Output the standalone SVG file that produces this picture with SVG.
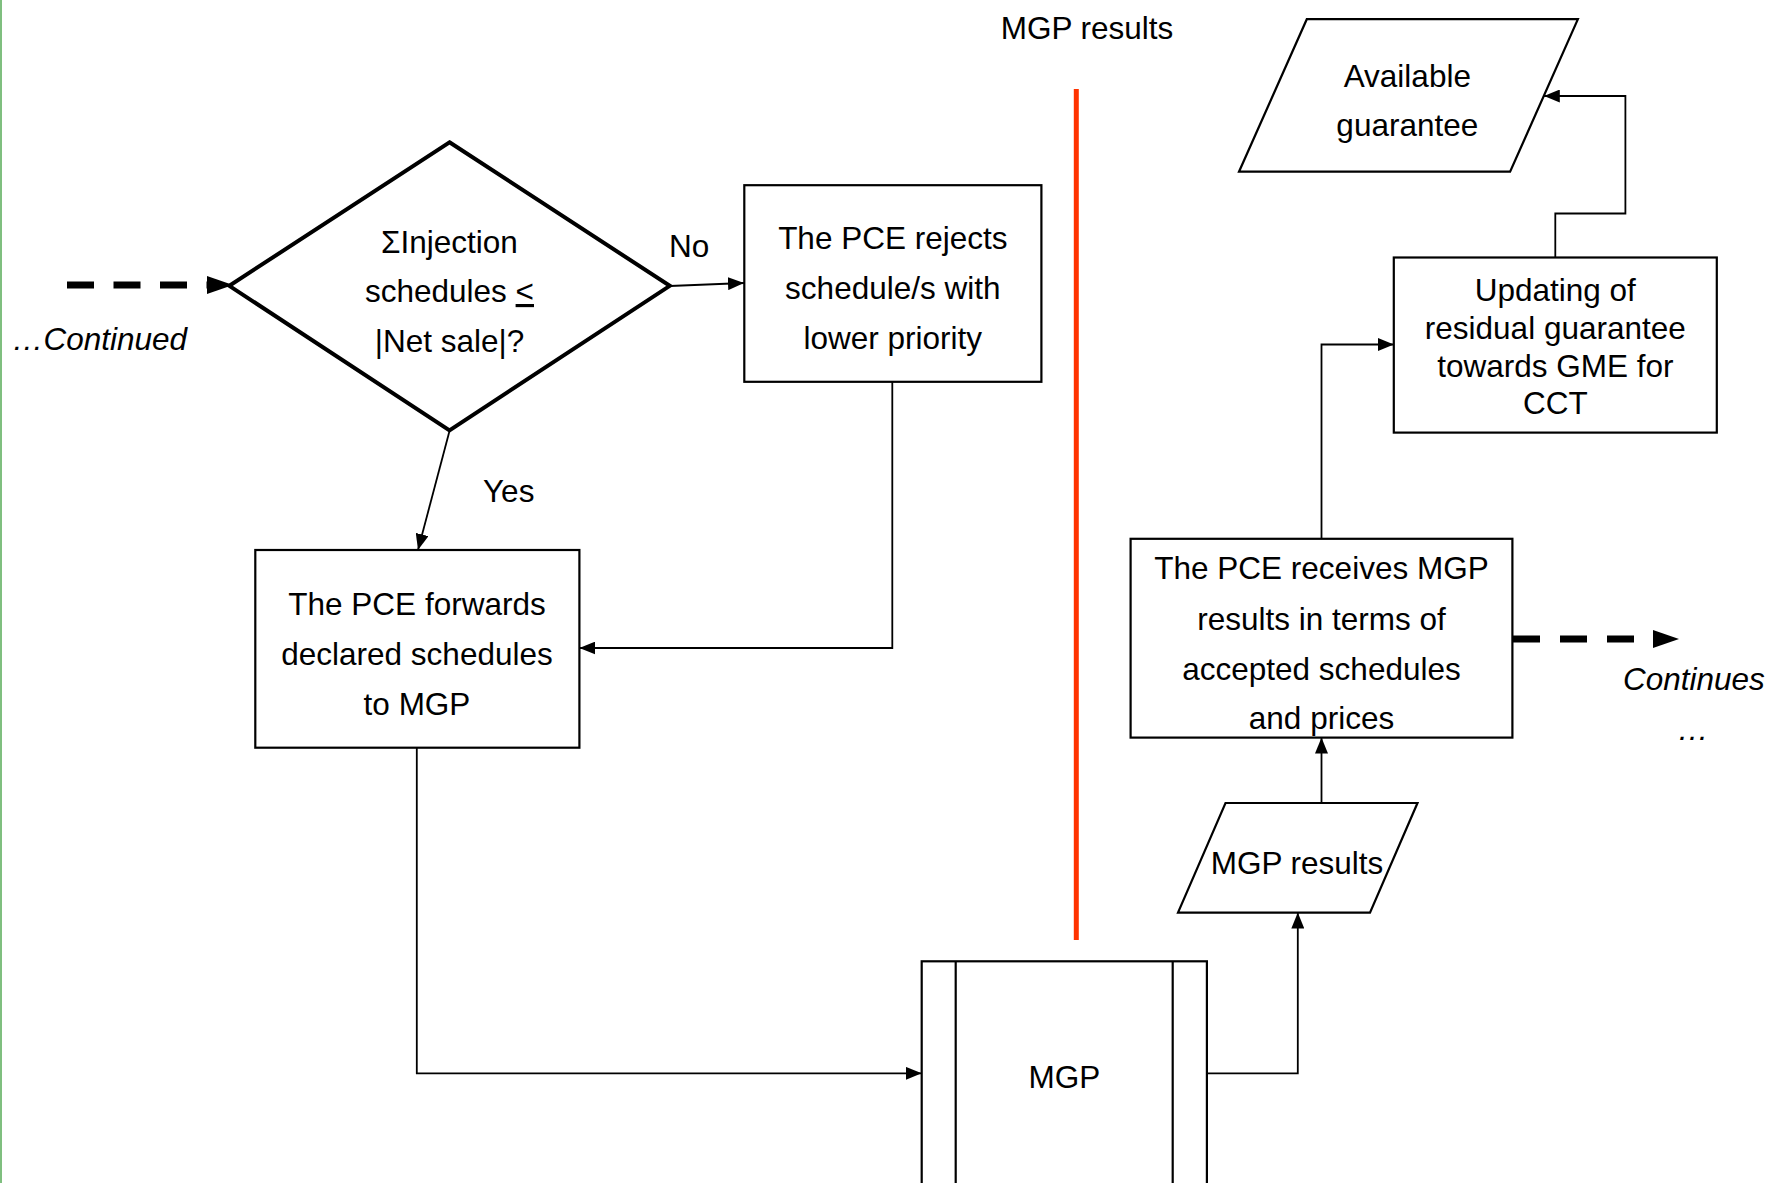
<svg xmlns="http://www.w3.org/2000/svg" width="1771" height="1183" viewBox="0 0 1771 1183">
  <style>
    text { font-family: "Liberation Sans", Arial, Helvetica, sans-serif; font-size: 31.5px; fill: #000; }
    .c { text-anchor: middle; }
    .it { font-style: italic; }
    .box { fill: #fff; stroke: #000; stroke-width: 2.2; }
    .dia { fill: #fff; stroke: #000; stroke-width: 4; stroke-linejoin: miter; }
    .ln { fill: none; stroke: #000; stroke-width: 1.8; }
    .dash { fill: none; stroke: #000; stroke-width: 7; stroke-dasharray: 27 19.5; }
  </style>
  <defs>
    <marker id="arrow" markerUnits="userSpaceOnUse" markerWidth="16" markerHeight="13" refX="16" refY="6.5" orient="auto">
      <path d="M0,0 L16,6.5 L0,13 Z" fill="#000"/>
    </marker>
    <marker id="arrowBold" markerUnits="userSpaceOnUse" markerWidth="26" markerHeight="18" refX="0" refY="9" orient="auto">
      <path d="M0,0 L26,9 L0,18 Z" fill="#000"/>
    </marker>
  </defs>

  <rect width="1771" height="1183" fill="#fff"/>
  <!-- page edge -->
  <line x1="1" y1="0" x2="1" y2="1183" stroke="#7fbf7f" stroke-width="2"/>

  <!-- swimlane divider -->
  <g id="divider">
    <text class="c" x="1087" y="39">MGP results</text>
    <line x1="1076.3" y1="89" x2="1076.3" y2="940" stroke="#ff3300" stroke-width="5"/>
  </g>

  <!-- connectors -->
  <g id="connectors">
    <path class="dash" d="M67,285 L207,285" marker-end="url(#arrowBold)"/>
    <path class="ln" d="M669.8,286 L744,283" marker-end="url(#arrow)"/>
    <path class="ln" d="M449.5,431 L418,550" marker-end="url(#arrow)"/>
    <path class="ln" d="M892.3,382 L892.3,648 L579.4,648" marker-end="url(#arrow)"/>
    <path class="ln" d="M416.8,748 L416.8,1073.3 L921.7,1073.3" marker-end="url(#arrow)"/>
    <path class="ln" d="M1207,1073.3 L1297.8,1073.3 L1297.8,912.6" marker-end="url(#arrow)"/>
    <path class="ln" d="M1321.5,803 L1321.5,737.6" marker-end="url(#arrow)"/>
    <path class="ln" d="M1321.5,538.8 L1321.5,344.5 L1393.8,344.5" marker-end="url(#arrow)"/>
    <path class="ln" d="M1555.3,257.5 L1555.3,213.5 L1625.4,213.5 L1625.4,96 L1543.8,96" marker-end="url(#arrow)"/>
    <path class="dash" d="M1513,639 L1653,639" style="stroke-dasharray:27 20" marker-end="url(#arrowBold)"/>
  </g>

  <!-- incoming continuation label -->
  <g id="continued">
    <text class="it" x="12" y="350">…Continued</text>
  </g>

  <g id="decision">
    <polygon class="dia" points="449.5,142.3 669.8,285.8 449.5,430.3 229.3,285.8"/>
    <text class="c" x="449.5" y="253">ΣInjection</text>
    <text class="c" x="449.5" y="302">schedules <tspan text-decoration="underline">&lt;</tspan></text>
    <text class="c" x="449.5" y="352">|Net sale|?</text>
  </g>

  <g id="label-no"><text x="669" y="257">No</text></g>
  <g id="label-yes"><text x="483" y="502">Yes</text></g>

  <g id="reject">
    <rect class="box" x="744.3" y="185.2" width="297.1" height="196.6"/>
    <text class="c" x="892.8" y="249">The PCE rejects</text>
    <text class="c" x="892.8" y="299">schedule/s with</text>
    <text class="c" x="892.8" y="349">lower priority</text>
  </g>

  <g id="forward">
    <rect class="box" x="255.3" y="550" width="324.1" height="197.7"/>
    <text class="c" x="417" y="615">The PCE forwards</text>
    <text class="c" x="417" y="665">declared schedules</text>
    <text class="c" x="417" y="715">to MGP</text>
  </g>

  <g id="mgp">
    <rect class="box" x="921.7" y="961.3" width="285.2" height="240"/>
    <line class="ln" x1="955.7" y1="961.3" x2="955.7" y2="1190" style="stroke-width:2.2"/>
    <line class="ln" x1="1172.7" y1="961.3" x2="1172.7" y2="1190" style="stroke-width:2.2"/>
    <text class="c" x="1064.3" y="1088">MGP</text>
  </g>

  <g id="mgp-results">
    <polygon class="box" points="1225.5,803 1417.5,803 1370,912.6 1178,912.6"/>
    <text class="c" x="1297" y="874">MGP results</text>
  </g>

  <g id="receives">
    <rect class="box" x="1130.6" y="538.8" width="381.8" height="198.8"/>
    <text class="c" x="1321.5" y="579">The PCE receives MGP</text>
    <text class="c" x="1321.5" y="630">results in terms of</text>
    <text class="c" x="1321.5" y="680">accepted schedules</text>
    <text class="c" x="1321.5" y="729">and prices</text>
  </g>

  <g id="continues">
    <text class="it" x="1623" y="690">Continues</text>
    <text class="it c" x="1693" y="740">…</text>
  </g>

  <g id="updating">
    <rect class="box" x="1393.8" y="257.5" width="323" height="175.1"/>
    <text class="c" x="1555.3" y="301">Updating of</text>
    <text class="c" x="1555.3" y="339">residual guarantee</text>
    <text class="c" x="1555.3" y="377">towards GME for</text>
    <text class="c" x="1555.3" y="414">CCT</text>
  </g>

  <g id="available">
    <polygon class="box" points="1306.8,19.2 1577.9,19.2 1510.1,171.7 1239,171.7"/>
    <text class="c" x="1407.3" y="87">Available</text>
    <text class="c" x="1407.3" y="136">guarantee</text>
  </g>
</svg>
